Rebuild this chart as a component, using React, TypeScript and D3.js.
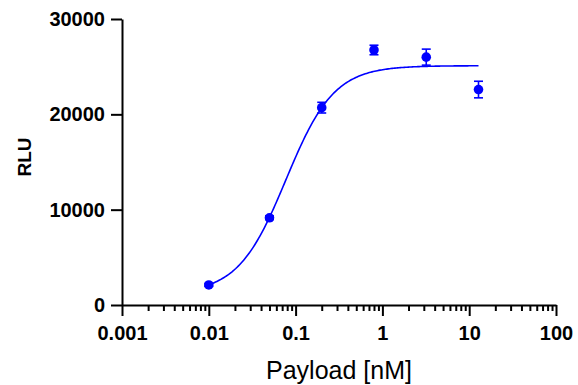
import { useRef, useEffect } from "react";
import * as d3 from "d3";

// measured points (mean ± error)
const doses = [0.01, 0.05, 0.2, 0.8, 3.2, 12.8];
const rlu = [2100, 9150, 20700, 26750, 26000, 22600];
const errs = [150, 200, 560, 500, 840, 870];

// 4PL fit parameters
const fitBottom = 1200;
const fitTop = 25100;
const fitEC50 = 0.0775;
const fitHill = 1.57;

const xTicks = [0.001, 0.01, 0.1, 1, 10, 100];
const xTickLabels = ["0.001", "0.01", "0.1", "1", "10", "100"];
const yTicks = [0, 10000, 20000, 30000];

const BLUE = "#0000ff";

const App = () => {
  const svgRef = useRef<SVGSVGElement>(null);

  useEffect(() => {
    const svg = d3.select(svgRef.current);
    svg.selectAll("*").remove();

    const x = d3.scaleLog().domain([0.001, 100]).range([122, 556]);
    const y = d3.scaleLinear().domain([0, 30000]).range([305, 19]);

    const minor: number[] = [];
    for (let i = 0; i < xTicks.length - 1; i++) {
      for (let k = 2; k <= 9; k++) minor.push(xTicks[i] * k);
    }

    const font = "Arial, 'Liberation Sans', Helvetica, sans-serif";

    // minor x ticks
    const xMinor = svg
      .append("g")
      .attr("transform", `translate(0,${y(0)})`)
      .call(d3.axisBottom(x).tickValues(minor).tickSize(6).tickFormat(() => "").tickSizeOuter(0));
    xMinor.select(".domain").remove();
    xMinor.selectAll("line").attr("stroke", "#000").attr("stroke-width", 2);

    // major x ticks
    const xAxis = svg
      .append("g")
      .attr("transform", `translate(0,${y(0)})`)
      .call(
        d3
          .axisBottom(x)
          .tickValues(xTicks)
          .tickSize(11)
          .tickSizeOuter(0)
          .tickFormat((d, i) => xTickLabels[i]),
      );
    xAxis.select(".domain").attr("stroke", "#000").attr("stroke-width", 2);
    xAxis.selectAll("line").attr("stroke", "#000").attr("stroke-width", 2);
    xAxis
      .selectAll("text")
      .attr("font-family", font)
      .attr("font-weight", "bold")
      .attr("font-size", 20)
      .attr("fill", "#000")
      .attr("y", 21);

    // y axis
    const yAxis = svg
      .append("g")
      .attr("transform", `translate(${x(0.001)},0)`)
      .call(d3.axisLeft(y).tickValues(yTicks).tickSize(11).tickSizeOuter(0).tickFormat(d3.format("d")));
    yAxis.select(".domain").attr("stroke", "#000").attr("stroke-width", 2);
    yAxis.selectAll("line").attr("stroke", "#000").attr("stroke-width", 2);
    yAxis
      .selectAll("text")
      .attr("font-family", font)
      .attr("font-weight", "bold")
      .attr("font-size", 20)
      .attr("fill", "#000")
      .attr("x", -17);

    // fitted curve
    const fit = (c: number) => fitBottom + (fitTop - fitBottom) / (1 + Math.pow(fitEC50 / c, fitHill));
    const lo = Math.log10(doses[0]);
    const hi = Math.log10(doses[doses.length - 1]);
    const curve = d3.range(0, 201).map((i) => {
      const c = Math.pow(10, lo + ((hi - lo) * i) / 200);
      return [c, fit(c)] as [number, number];
    });
    svg
      .append("path")
      .datum(curve)
      .attr("fill", "none")
      .attr("stroke", BLUE)
      .attr("stroke-width", 1.6)
      .attr(
        "d",
        d3
          .line<[number, number]>()
          .x((d) => x(d[0]))
          .y((d) => y(d[1])),
      );

    // error bars
    const pts = doses.map((d, i) => ({ d, v: rlu[i], e: errs[i] }));
    const eb = svg.append("g").attr("stroke", BLUE).attr("stroke-width", 1.6);
    pts.forEach((p) => {
      const cx = x(p.d);
      eb.append("line").attr("x1", cx).attr("x2", cx).attr("y1", y(p.v - p.e)).attr("y2", y(p.v + p.e));
      eb.append("line").attr("x1", cx - 4.5).attr("x2", cx + 4.5).attr("y1", y(p.v - p.e)).attr("y2", y(p.v - p.e));
      eb.append("line").attr("x1", cx - 4.5).attr("x2", cx + 4.5).attr("y1", y(p.v + p.e)).attr("y2", y(p.v + p.e));
    });

    svg
      .append("g")
      .selectAll("circle")
      .data(pts)
      .join("circle")
      .attr("cx", (p) => x(p.d))
      .attr("cy", (p) => y(p.v))
      .attr("r", 4.8)
      .attr("fill", BLUE);

    svg
      .append("text")
      .attr("x", 339)
      .attr("y", 379)
      .attr("text-anchor", "middle")
      .attr("font-family", font)
      .attr("font-size", 25)
      .attr("fill", "#000")
      .text("Payload [nM]");

    svg
      .append("text")
      .attr("transform", `translate(31,157) rotate(-90)`)
      .attr("text-anchor", "middle")
      .attr("font-family", font)
      .attr("font-weight", "bold")
      .attr("font-size", 19)
      .attr("fill", "#000")
      .text("RLU");
  }, []);

  return (
    <svg
      ref={svgRef}
      width={578}
      height={385}
      style={{ position: "absolute", left: 0, top: 0, background: "#fff" }}
    ></svg>
  );
};

export default App;
